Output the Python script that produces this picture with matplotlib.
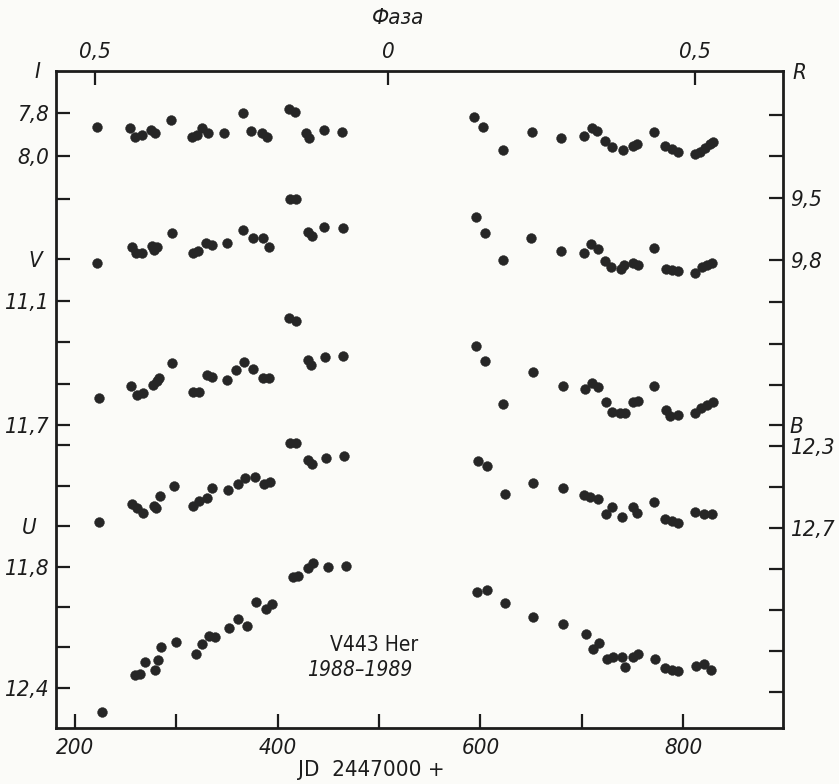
import numpy as np
import matplotlib.pyplot as plt

###############################################################################
# Data: JD - 2447000 and magnitudes for each band
###############################################################################
jd_I = [221.4, 254.3, 259.2, 265.8, 274.7, 278.9, 294.7, 315.2, 320.1, 325.0,
        331.5, 347.0, 366.1, 373.4, 384.2, 389.2, 411.5, 417.1, 428.0, 431.2,
        445.7, 463.2,
        594.1, 603.0, 622.1, 650.7, 679.6, 702.6, 709.9, 715.4, 723.0, 729.7,
        740.5, 750.4, 754.9, 771.7, 782.3, 788.9, 795.4, 811.9, 816.8, 821.7,
        826.0, 829.3]
mag_I = [7.867, 7.871, 7.910, 7.902, 7.879, 7.892, 7.833, 7.910, 7.902, 7.871,
         7.892, 7.892, 7.799, 7.884, 7.894, 7.910, 7.783, 7.794, 7.894, 7.918,
         7.879, 7.890,
         7.817, 7.867, 7.972, 7.890, 7.918, 7.907, 7.871, 7.882, 7.929, 7.957,
         7.972, 7.953, 7.944, 7.890, 7.953, 7.969, 7.980, 7.991, 7.980, 7.961,
         7.944, 7.933]

jd_R = [222.0, 256.0, 260.2, 265.8, 275.7, 278.0, 280.6, 295.4, 316.2, 321.7,
        329.3, 334.9, 349.7, 366.1, 375.4, 385.8, 391.8, 412.2, 418.1, 429.6,
        433.6, 445.7, 464.8,
        595.7, 604.6, 622.7, 650.0, 679.6, 702.3, 709.2, 715.8, 723.0, 729.0,
        738.8, 742.1, 751.0, 755.9, 771.7, 783.3, 788.9, 794.8, 811.9, 818.5,
        823.4, 828.3]
mag_R = [9.814, 9.734, 9.763, 9.763, 9.731, 9.750, 9.734, 9.670, 9.766, 9.753,
         9.715, 9.726, 9.718, 9.654, 9.694, 9.691, 9.734, 9.506, 9.506, 9.662,
         9.683, 9.641, 9.646,
         9.593, 9.667, 9.798, 9.694, 9.755, 9.763, 9.721, 9.745, 9.803, 9.833,
         9.843, 9.822, 9.811, 9.822, 9.742, 9.843, 9.846, 9.850, 9.862, 9.833,
         9.822, 9.814]

jd_V = [223.7, 255.3, 261.5, 267.4, 276.7, 280.6, 283.2, 296.0, 316.2, 322.7,
        330.0, 334.9, 349.7, 358.9, 367.1, 376.0, 385.8, 391.8, 411.5, 418.1,
        429.6, 432.6, 446.7, 464.2,
        595.7, 604.6, 622.7, 651.7, 681.3, 703.3, 710.5, 716.4, 724.0, 729.6,
        737.8, 742.7, 751.0, 755.9, 771.7, 783.3, 787.2, 795.4, 811.9, 817.8,
        823.4, 829.3]
mag_V = [11.571, 11.511, 11.556, 11.544, 11.507, 11.486, 11.475, 11.402, 11.540,
         11.540, 11.459, 11.470, 11.481, 11.436, 11.395, 11.430, 11.472, 11.473,
         11.182, 11.197, 11.386, 11.411, 11.373, 11.366,
         11.319, 11.391, 11.600, 11.443, 11.511, 11.528, 11.499, 11.518, 11.588,
         11.636, 11.644, 11.641, 11.591, 11.583, 11.512, 11.628, 11.657, 11.652,
         11.644, 11.617, 11.604, 11.588]

jd_B = [223.7, 256.0, 260.9, 267.4, 278.0, 279.9, 283.9, 297.7, 316.7, 322.7,
        330.0, 334.9, 351.3, 361.2, 367.8, 377.6, 386.8, 392.4, 412.2, 418.1,
        430.2, 433.6, 447.7, 465.5,
        598.0, 606.3, 624.4, 651.7, 681.3, 702.3, 708.2, 716.4, 724.0, 729.6,
        739.5, 750.4, 754.3, 771.7, 782.3, 788.9, 795.4, 811.9, 820.1, 828.4]
mag_B = [12.669, 12.584, 12.604, 12.625, 12.593, 12.601, 12.544, 12.495, 12.593,
         12.567, 12.552, 12.503, 12.515, 12.485, 12.458, 12.453, 12.485, 12.474,
         12.284, 12.284, 12.368, 12.389, 12.357, 12.349,
         12.372, 12.398, 12.534, 12.482, 12.503, 12.539, 12.547, 12.560, 12.632,
         12.599, 12.645, 12.596, 12.625, 12.572, 12.656, 12.664, 12.677, 12.623,
         12.632, 12.633]

jd_U = [226.3, 259.2, 264.1, 269.1, 278.9, 281.6, 284.9, 299.4, 319.4, 325.3,
        332.5, 338.2, 352.3, 361.2, 369.4, 378.6, 388.2, 394.1, 414.8, 420.4,
        430.2, 434.6, 449.4, 467.1,
        597.0, 606.3, 624.4, 652.3, 681.3, 704.0, 711.5, 717.1, 724.7, 730.6,
        739.5, 742.8, 751.0, 755.9, 772.4, 782.3, 788.9, 795.4, 812.9, 820.1,
        827.4]
mag_U = [12.518, 12.336, 12.331, 12.270, 12.311, 12.262, 12.196, 12.171, 12.232,
         12.183, 12.143, 12.147, 12.102, 12.060, 12.094, 11.976, 12.011, 11.985,
         11.852, 11.845, 11.808, 11.783, 11.800, 11.795,
         11.924, 11.915, 11.981, 12.048, 12.084, 12.135, 12.207, 12.179, 12.258,
         12.246, 12.249, 12.295, 12.246, 12.234, 12.257, 12.303, 12.311, 12.319,
         12.292, 12.282, 12.311]

# JD ticks and phase ticks
jd_ticks = [200, 300, 400, 500, 600, 700, 800]
jd_labels = ['200', '', '400', '', '600', '', '800']
phase_jd = [219.7, 509.0, 811.5]
phase_labels = ['0,5', '0', '0,5']

###############################################################################
# Layout
###############################################################################
W, H = 839, 784
x0, x1, y0, y1 = 56, 783, 70.7, 728      # frame in pixels
rect = [x0 / W, 1 - y1 / H, (x1 - x0) / W, (y1 - y0) / H]
paper = '#fbfbf8'
ink = '#1c1c1c'
dot = '#262626'
plt.rcParams['font.family'] = ['DejaVu Sans']
plt.rcParams['font.stretch'] = 'condensed'

# per band: (jd, mag, ylim bottom/top, side, ticks, labels)
bands = {
    'I': (jd_I, mag_I, (10.660, 7.603), 'left',
          [7.8, 8.0, 8.2], ['7,8', '8,0', '']),
    'R': (jd_R, mag_R, (12.048, 8.888), 'right',
          [9.1, 9.3, 9.5, 9.8, 10.0, 10.2, 10.4],
          ['', '', '9,5', '9,8', '', '', '']),
    'V': (jd_V, mag_V, (13.164, 9.989), 'left',
          [10.9, 11.1, 11.3, 11.5, 11.7], ['V ', '11,1', '', '', '11,7']),
    'B': (jd_B, mag_B, (13.676, 10.469), 'right',
          [12.2, 12.3, 12.5, 12.7, 12.9, 13.1, 13.3, 13.5],
          ['B', '12,3', '', '12,7', '', '', '', '']),
    'U': (jd_U, mag_U, (12.599, 9.345), 'left',
          [11.2, 11.4, 11.6, 11.8, 12.0, 12.2, 12.4],
          ['', '', 'U  ', '11,8', '', '', '12,4']),
}

fig = plt.figure(figsize=(W / 100, H / 100), dpi=100, facecolor=paper)
ax = fig.add_axes(rect, facecolor=paper)
ax.set_xlim(181.3, 898.5)
ax.set_ylim(0, 1)
ax.set_yticks([])
for s in ax.spines.values():
    s.set_linewidth(2.0)
    s.set_color(ink)
ax.set_xticks(jd_ticks, jd_labels)
ax.tick_params(axis='x', direction='in', length=10, width=1.6, pad=7,
               labelsize=16, colors=ink)
for t in ax.get_xticklabels():
    t.set_style('italic')

top = ax.secondary_xaxis('top')
top.set_xticks(phase_jd, phase_labels)
top.tick_params(direction='in', length=10, width=1.6, pad=6, labelsize=16,
                colors=ink)
top.spines['top'].set_visible(False)
for t in top.get_xticklabels():
    t.set_style('italic')

###############################################################################
# One transparent axes per band, sharing the JD axis
###############################################################################
for name, (jd, mag, lim, side, ticks, labels) in bands.items():
    b = fig.add_axes(rect, sharex=ax)
    b.patch.set_visible(False)
    for s in b.spines.values():
        s.set_visible(False)
    b.xaxis.set_visible(False)
    b.set_ylim(*lim)
    b.scatter(jd, mag, s=50, color=dot, edgecolor=dot, linewidth=0.3,
              zorder=3)
    b.yaxis.set_ticks_position(side)
    b.set_yticks(ticks, labels)
    b.tick_params(axis='y', direction='in', length=10, width=1.6, pad=5,
                  labelsize=16, colors=ink)
    for t in b.get_yticklabels():
        t.set_style('italic')

###############################################################################
# Texts
###############################################################################
fig.text(0.474, 0.977, 'Фаза', ha='center', va='center', fontsize=16,
         style='italic', color=ink)
fig.text(0.045, 0.908, 'I', ha='center', va='center', fontsize=16,
         style='italic', color=ink)
fig.text(0.953, 0.907, 'R', ha='center', va='center', fontsize=16,
         style='italic', color=ink)
fig.text(0.442, 0.018, 'JD  2447000 +', ha='center', va='center', fontsize=16,
         color=ink)
ax.text(0.437, 0.126, 'V443 Her', transform=ax.transAxes, ha='center',
        va='center', fontsize=15, color=ink)
ax.text(0.418, 0.089, '1988–1989', transform=ax.transAxes, ha='center',
        va='center', fontsize=15, style='italic', color=ink)

plt.savefig('out.png', dpi=100, facecolor=paper)
